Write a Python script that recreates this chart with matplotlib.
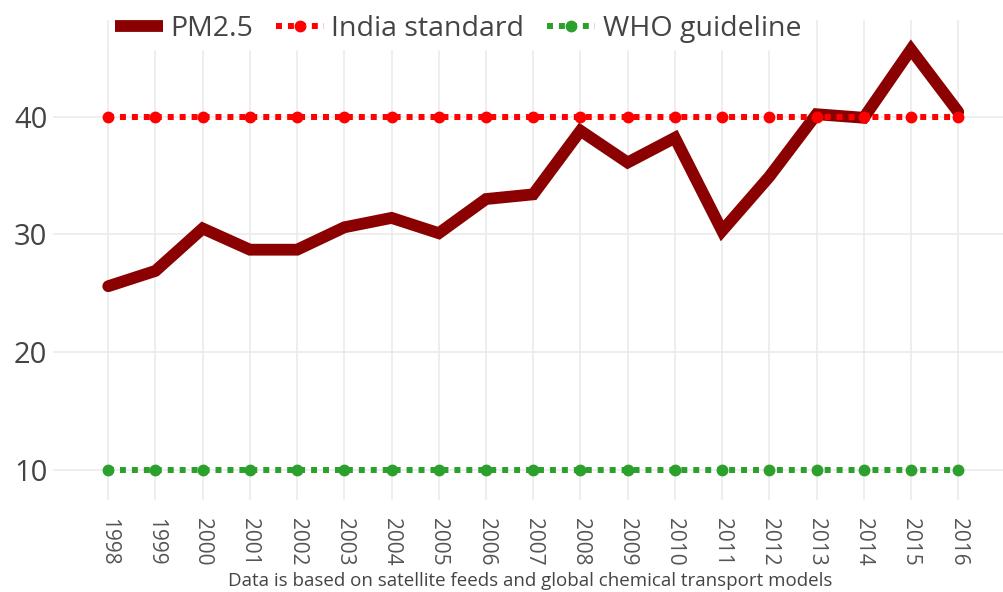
import matplotlib.pyplot as plt

plt.rcParams['font.family'] = ['Open Sans', 'DejaVu Sans']

# data
years = [1998, 1999, 2000, 2001, 2002, 2003, 2004, 2005, 2006, 2007,
         2008, 2009, 2010, 2011, 2012, 2013, 2014, 2015, 2016]
pm25 = [25.6, 26.9, 30.5, 28.7, 28.7, 30.6, 31.4, 30.1, 33.0, 33.4,
        38.8, 36.1, 38.2, 30.3, 34.9, 40.2, 39.9, 45.7, 40.4]
india_std = [40] * len(years)
who_guide = [10] * len(years)
yticks = [10, 20, 30, 40]
caption = 'Data is based on satellite feeds and global chemical transport models'

fig = plt.figure(figsize=(10.04, 5.92), dpi=100)
ax = fig.add_axes([53 / 1004, 92 / 592, 951 / 1004, 480 / 592])

ax.plot(years, pm25, color='#8b0000', lw=8.5, solid_joinstyle='miter',
        solid_capstyle='round', label='PM2.5', zorder=3)
ax.plot(years, india_std, color='#ff0000', lw=4.3, ls=(0, (1, 1)),
        marker='o', ms=7.5, label='India standard', zorder=4)
ax.plot(years, who_guide, color='#2ca02c', lw=4.3, ls=(0, (1, 1)),
        marker='o', ms=7.5, label='WHO guideline', zorder=4)

ax.set_xlim(1996.83, 2016.97)
ax.set_ylim(7.45, 48.2)
ax.set_xticks(years)
ax.set_xticklabels([str(y) for y in years], rotation=-90)
ax.set_yticks(yticks)
ax.grid(True, color='#ebebeb', lw=1.2)
ax.set_axisbelow(True)
for s in ax.spines.values():
    s.set_visible(False)
ax.tick_params(axis='both', length=0)
ax.tick_params(axis='y', labelsize=21, colors='#444444', pad=4)
ax.tick_params(axis='x', labelsize=15, colors='#555555', pad=13)

fig.text(0.528, 0.004, caption, ha='center', va='bottom', fontsize=13.5, color='#444444')

leg = fig.legend(loc='upper center', bbox_to_anchor=(0.456, 0.984), ncol=3, frameon=True,
                 fontsize=20.5, handlelength=1.7, columnspacing=0.8, handletextpad=0.25,
                 borderaxespad=0, borderpad=0.2)
leg.get_frame().set_edgecolor('white')
leg.get_frame().set_facecolor('white')
leg.get_frame().set_alpha(1)
for h in leg.get_lines():
    h.set_solid_capstyle('butt')
for t in leg.get_texts():
    t.set_color('#444444')

fig.savefig('out.png', dpi=100)
